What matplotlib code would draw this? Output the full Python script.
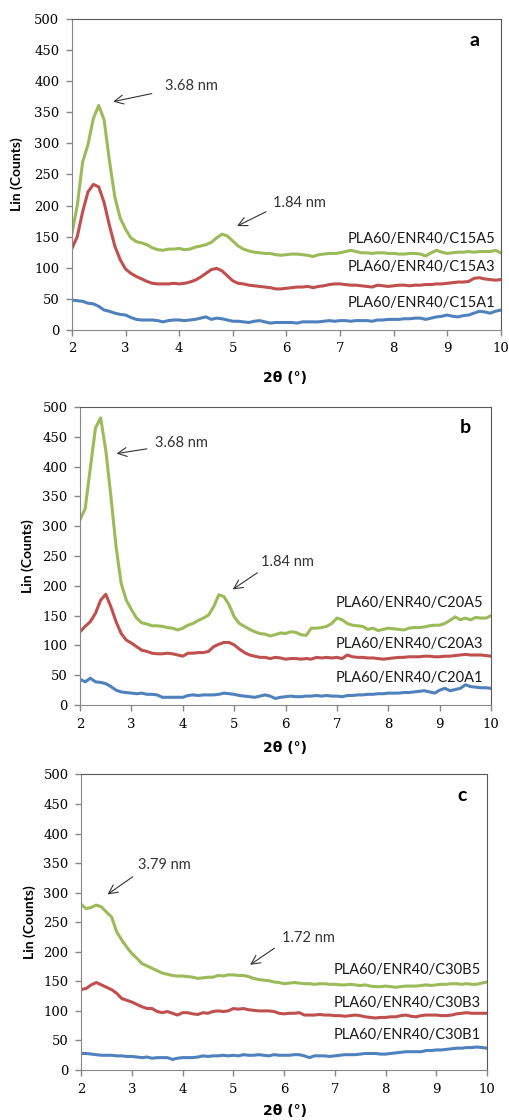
import numpy as np
import matplotlib.pyplot as plt

# 2theta grid shared by every pattern (0.1 deg step)
two_theta = np.round(np.arange(2.0, 10.01, 0.1), 1)

# --- panel a : C15A ---
c15a5 = [155, 200, 270, 298, 340, 361, 338, 272, 214, 180,
         162, 148, 142, 140, 137, 132, 129, 128, 130, 130,
         131, 129, 130, 133, 135, 137, 141, 148, 154, 151,
         143, 135, 130, 127, 125, 124, 123, 123, 121, 120,
         121, 122, 122, 121, 120, 118, 121, 122, 123, 123,
         124, 126, 128, 126, 124, 124, 123, 124, 124, 123,
         123, 122, 122, 123, 123, 122, 119, 124, 128, 125,
         123, 124, 125, 125, 126, 125, 126, 126, 126, 128, 124]
c15a3 = [131, 150, 190, 222, 234, 230, 205, 168, 135, 113,
         98, 91, 86, 82, 78, 75, 74, 74, 74, 75,
         74, 75, 77, 80, 85, 91, 97, 99, 95, 87,
         79, 75, 74, 72, 71, 70, 69, 68, 66, 66,
         67, 68, 69, 69, 70, 68, 70, 71, 73, 74,
         74, 73, 72, 72, 71, 70, 69, 72, 71, 70,
         71, 72, 72, 71, 72, 72, 73, 73, 74, 74,
         75, 76, 77, 77, 78, 83, 84, 82, 81, 80, 81]
c15a1 = [48, 47, 46, 43, 42, 38, 32, 30, 27, 25,
         24, 20, 17, 16, 16, 16, 15, 13, 15, 16,
         16, 15, 16, 17, 19, 21, 17, 19, 18, 16,
         14, 14, 13, 12, 14, 15, 13, 11, 12, 12,
         12, 12, 11, 13, 13, 13, 13, 14, 15, 14,
         15, 15, 14, 15, 15, 15, 14, 16, 16, 17,
         17, 17, 18, 18, 19, 19, 17, 19, 21, 22,
         24, 22, 21, 23, 24, 27, 30, 29, 27, 30, 32]

# --- panel b : C20A ---
c20a5 = [311, 330, 398, 465, 482, 428, 350, 266, 204, 176,
         160, 146, 138, 136, 133, 133, 132, 130, 129, 126,
         129, 134, 137, 142, 146, 151, 165, 185, 182, 168,
         148, 137, 132, 127, 123, 120, 119, 116, 118, 121,
         120, 123, 122, 118, 117, 129, 129, 130, 132, 137,
         146, 143, 137, 134, 133, 132, 127, 129, 125, 127,
         129, 128, 127, 126, 129, 130, 130, 131, 133, 134,
         134, 137, 142, 148, 143, 146, 143, 147, 146, 146, 150]
c20a3 = [123, 132, 140, 154, 176, 186, 165, 140, 120, 109,
         104, 98, 92, 90, 87, 86, 86, 87, 86, 84,
         82, 87, 87, 88, 88, 90, 98, 102, 105, 105,
         101, 94, 88, 84, 82, 80, 80, 78, 80, 79,
         77, 78, 78, 77, 78, 77, 80, 79, 80, 79,
         80, 78, 84, 81, 80, 80, 79, 79, 78, 77,
         78, 79, 80, 80, 81, 81, 81, 82, 82, 81,
         81, 82, 82, 83, 84, 85, 84, 84, 84, 83, 82]
c20a1 = [43, 39, 45, 39, 38, 36, 31, 25, 22, 21,
         20, 19, 20, 18, 18, 17, 13, 13, 13, 13,
         13, 16, 17, 16, 17, 17, 17, 18, 20, 19,
         18, 16, 15, 14, 13, 15, 17, 15, 11, 13,
         14, 15, 14, 14, 15, 15, 16, 15, 16, 15,
         15, 14, 16, 16, 17, 17, 18, 18, 19, 19,
         20, 20, 20, 21, 21, 22, 23, 24, 22, 20,
         25, 28, 24, 26, 28, 34, 31, 30, 29, 29, 28]

# --- panel c : C30B ---
c30b5 = [280, 273, 275, 279, 276, 267, 259, 234, 220, 208,
         197, 189, 180, 176, 172, 168, 164, 162, 160, 159,
         159, 158, 157, 155, 156, 157, 157, 160, 159, 161,
         161, 160, 160, 158, 155, 153, 152, 151, 149, 148,
         146, 147, 148, 147, 146, 146, 145, 146, 146, 145,
         145, 144, 144, 145, 144, 143, 144, 142, 141, 141,
         142, 141, 140, 141, 142, 142, 142, 143, 144, 143,
         144, 145, 145, 146, 146, 145, 146, 145, 145, 147, 149]
c30b3 = [136, 138, 144, 148, 144, 140, 136, 130, 121, 118,
         115, 111, 107, 104, 104, 99, 97, 99, 96, 93,
         97, 97, 95, 94, 97, 96, 99, 100, 99, 100,
         104, 103, 104, 102, 101, 100, 100, 100, 99, 96,
         95, 96, 96, 97, 93, 93, 93, 94, 93, 93,
         92, 92, 91, 92, 93, 92, 90, 89, 88, 89,
         89, 90, 90, 92, 93, 91, 90, 92, 93, 93,
         93, 92, 92, 93, 95, 96, 97, 96, 96, 96, 96]
c30b1 = [28, 28, 27, 26, 25, 25, 25, 24, 24, 23,
         23, 22, 21, 22, 20, 21, 21, 21, 18, 20,
         21, 21, 21, 22, 24, 23, 24, 24, 25, 24,
         25, 24, 26, 25, 25, 26, 25, 24, 26, 25,
         25, 25, 26, 26, 24, 21, 24, 24, 24, 23,
         24, 25, 26, 26, 26, 27, 28, 28, 28, 27,
         27, 28, 29, 30, 31, 31, 31, 31, 33, 33,
         34, 34, 35, 36, 37, 37, 38, 38, 39, 38, 37]

blue, red, green = '#4F81BD', '#C0504D', '#9BBB59'

panels = [
    dict(rect=[0.141, 0.7054, 0.841, 0.2777], letter='a',
         series=[(c15a1, blue, 'PLA60/ENR40/C15A1', 43),
                 (c15a3, red, 'PLA60/ENR40/C15A3', 101),
                 (c15a5, green, 'PLA60/ENR40/C15A5', 146)],
         lab_x=9.9,
         notes=[('3.68 nm', (3.73, 392), (3.49, 380), (2.77, 367)),
                ('1.84 nm', (5.75, 204), (5.62, 190), (5.08, 167))],
         ylab_x=17, xlab_y=378),
    dict(rect=[0.157, 0.3705, 0.806, 0.266], letter='b',
         series=[(c20a1, blue, 'PLA60/ENR40/C20A1', 45),
                 (c20a3, red, 'PLA60/ENR40/C20A3', 102),
                 (c20a5, green, 'PLA60/ENR40/C20A5', 171)],
         lab_x=9.84,
         notes=[('3.68 nm', (3.46, 439), (3.30, 430), (2.71, 422)),
                ('1.84 nm', (5.53, 240), (5.45, 222), (4.97, 194))],
         ylab_x=28, xlab_y=748),
    dict(rect=[0.159, 0.0446, 0.796, 0.264], letter='c',
         series=[(c30b1, blue, 'PLA60/ENR40/C30B1', 59),
                 (c30b3, red, 'PLA60/ENR40/C30B3', 113),
                 (c30b5, green, 'PLA60/ENR40/C30B5', 170)],
         lab_x=9.88,
         notes=[('3.79 nm', (3.13, 346), (3.02, 327), (2.52, 297)),
                ('1.72 nm', (5.95, 223), (5.81, 206), (5.33, 178))],
         ylab_x=30, xlab_y=1111),
]

fig = plt.figure(figsize=(5.1, 11.2), dpi=100)
W, H = 510, 1120

for p in panels:
    ax = fig.add_axes(p['rect'])
    for ys, col, name, ly in p['series']:
        ax.plot(two_theta, ys, color=col, lw=2.2, solid_joinstyle='round')
        ax.text(p['lab_x'], ly, name, ha='right', va='center',
                fontsize=10.5, family='Lato', color='#1a1a1a')
    for txt, tpos, a0, a1 in p['notes']:
        ax.annotate('', xy=a1, xytext=a0,
                    arrowprops=dict(arrowstyle='->', color='#333333', lw=0.8,
                                    mutation_scale=16, shrinkA=0, shrinkB=0))
        ax.text(tpos[0], tpos[1], txt, ha='left', va='center',
                fontsize=10.5, family='Lato', color='#333333')
    ax.text(9.5, 465, p['letter'], ha='center', va='center',
            fontsize=14, fontweight='bold', family='Lato')

    ax.set_xlim(2, 10)
    ax.set_ylim(0, 500)
    ax.set_xticks(range(2, 11))
    ax.set_yticks(range(0, 501, 50))
    ax.tick_params(direction='out', length=4, width=1, color='#878787',
                   labelsize=9.5, pad=5)
    for lab in ax.get_xticklabels() + ax.get_yticklabels():
        lab.set_family('DejaVu Serif')
    for s in ('left', 'bottom'):
        ax.spines[s].set_color('#878787')
    for s in ('top', 'right'):
        ax.spines[s].set_color('#595959')

    # axis titles placed in pixel positions of the figure
    bottom, height = p['rect'][1], p['rect'][3]
    fig.text(p['ylab_x'] / W, bottom + height / 2, 'Lin (Counts)',
             rotation=90, ha='center', va='center', fontsize=10,
             fontweight='bold', family='Lato')
    fig.text(285 / W, 1 - p['xlab_y'] / H, '2θ (°)', ha='center', va='center',
             fontsize=10, fontweight='bold', family='DejaVu Sans')

fig.savefig('out.png', dpi=100, facecolor='white')
